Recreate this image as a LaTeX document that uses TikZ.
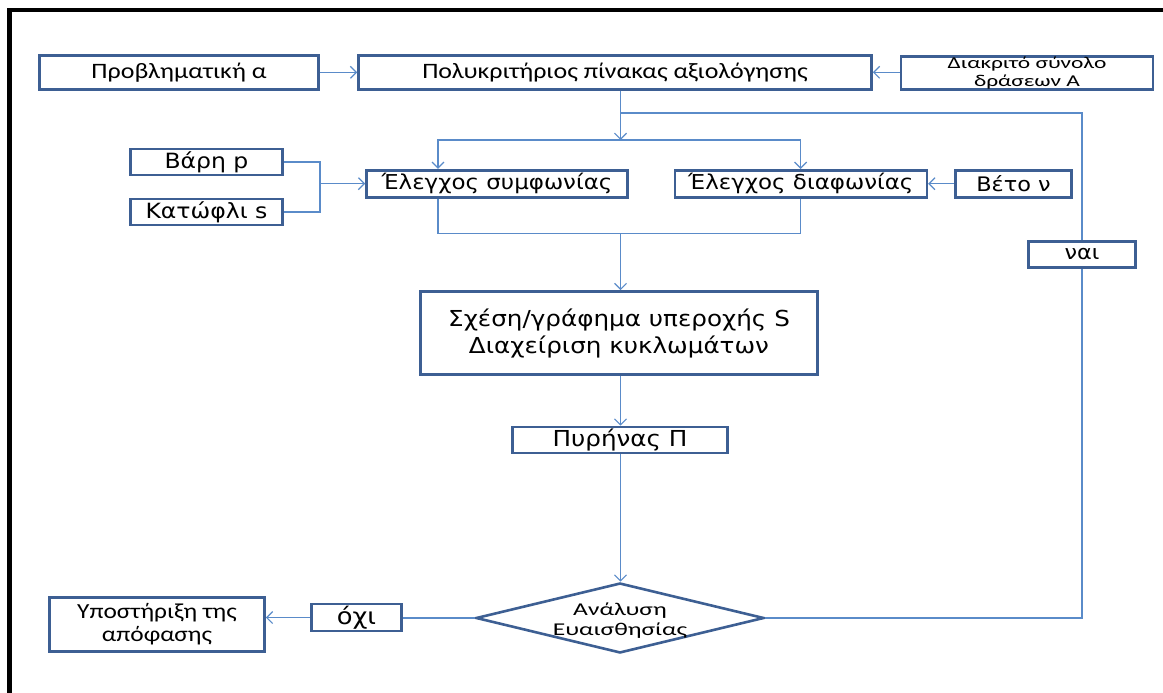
\documentclass[tikz,border=0pt]{standalone}
\usepackage{fontspec}
\setmainfont[FakeStretch=1.18]{Carlito}
\newfontfamily\calwide[FakeStretch=1.42]{Carlito}
\newfontfamily\vf[FakeStretch=1.12]{DejaVu Sans}
\usetikzlibrary{arrows.meta,shapes.geometric}
\definecolor{boxline}{HTML}{3D5F93}
\definecolor{link}{HTML}{5A8BC9}
\begin{document}
\begin{tikzpicture}[x=1pt,y=-1pt,
  box/.style={draw=boxline,line width=2.6pt,fill=white,inner sep=0pt,align=center},
  cal/.style 2 args={font=\fontsize{#1}{#2}\selectfont},
  calw/.style 2 args={font=\calwide\fontsize{#1}{#2}\selectfont},
  dvs/.style 2 args={font=\vf\fontsize{#1}{#2}\selectfont},
  wire/.style={draw=link,line width=1.3pt},
  arr/.style={wire,-{Straight Barb[length=6pt,width=12pt,line width=1.2pt]}},
]
\useasboundingbox (0,0) rectangle (1163,693);
% outer frame
\draw[line width=4.5pt,line join=miter] (9.5,700) -- (9.5,10) -- (1170,10);

% top row
\node[box,cal={22}{25},minimum width=279pt,minimum height=34pt] (prob) at (179,72.3) {Προβληματική α};
\node[box,cal={22}{25},minimum width=513pt,minimum height=34pt] (poly) at (615,72.3) {Πολυκριτήριος πίνακας αξιολόγησης};
\node[box,minimum width=252pt,minimum height=33pt] (diak) at (1027,72.8) {};
\node[calw={16.5}{18.4},align=center] (diakT) at (1027,73) {Διακριτό σύνολο\\δράσεων Α};

% inputs and checks
\node[box,dvs={21}{24},minimum width=152pt,minimum height=26pt] (varp) at (206.5,162) {Βάρη p};
\node[box,dvs={21}{24},minimum width=152pt,minimum height=26pt] (kat) at (206.5,212) {Κατώφλι s};
\node[box,dvs={20.5}{23},minimum width=261pt,minimum height=27pt] (symf) at (497,183.7) {Έλεγχος συμφωνίας};
\node[box,dvs={20.5}{23},minimum width=252pt,minimum height=27pt] (diaf) at (800.8,183.7) {Έλεγχος διαφωνίας};
\node[box,dvs={20}{23},minimum width=116pt,minimum height=27pt] (veto) at (1013.5,183.7) {Βέτο ν};
\node[box,dvs={20}{23},minimum width=107pt,minimum height=26pt] (nai) at (1082,254.5) {ναι};

% central column
\node[box,dvs={22}{27},minimum width=397pt,minimum height=83pt] (sxesi) at (619,333) {Σχέση/γράφημα υπεροχής S\\Διαχείριση κυκλωμάτων};
\node[box,dvs={22}{25},minimum width=215pt,minimum height=26pt] (pyr) at (620,440) {Πυρήνας Π};
\node[box,diamond,inner sep=0pt,shape aspect=4,minimum width=288pt,minimum height=70pt] (dia) at (620,618) {};
\node[calw={18}{20},align=center] (diaT) at (620,620.5) {Ανάλυση\\Ευαισθησίας};

% bottom left
\node[box,dvs={23}{25},minimum width=90pt,minimum height=27pt] (ochi) at (356.5,617.5) {όχι};
\node[box,cal={21.5}{23},minimum width=215pt,minimum height=54pt] (ypost) at (157,624.5) {Υποστήριξη της\\απόφασης};

% junction points
\coordinate (j1) at (620.5,140);
\coordinate (sIn) at (438,140);
\coordinate (dIn) at (800.6,140);
\coordinate (r1) at (1082,113);
\coordinate (mL) at (320,183.7);
\coordinate (j2) at (620.5,233.5);

% connectors
\draw[arr] (prob.east) -- (poly.west);
\draw[arr] (diak.west |- poly.east) -- (poly.east);
\draw[arr] (poly.south -| j1) -- (j1);
\draw[wire] (poly.south -| j1) |- (r1) -- (nai.north);
\draw[arr] (j1) -- (sIn) -- (sIn |- symf.north);
\draw[arr] (j1) -- (dIn) -- (dIn |- diaf.north);
\draw[wire] (varp.east) -| (mL);
\draw[wire] (kat.east) -| (mL);
\draw[arr] (mL) -- (symf.west);
\draw[arr] (veto.west) -- (diaf.east);
\draw[wire] (symf.south -| sIn) |- (j2) -| (diaf.south -| dIn);
\draw[arr] (j2) -- (j2 |- sxesi.north);
\draw[arr] (sxesi.south -| j2) -- (pyr.north -| j2);
\draw[arr] (pyr.south -| j2) -- (dia.north -| j2);
\draw[wire] (dia.east) -| (nai.south);
\draw[wire] (dia.west) -- (dia.west -| ochi.east);
\draw[arr] (ochi.west) -- (ochi.west -| ypost.east);
\end{tikzpicture}
\end{document}
